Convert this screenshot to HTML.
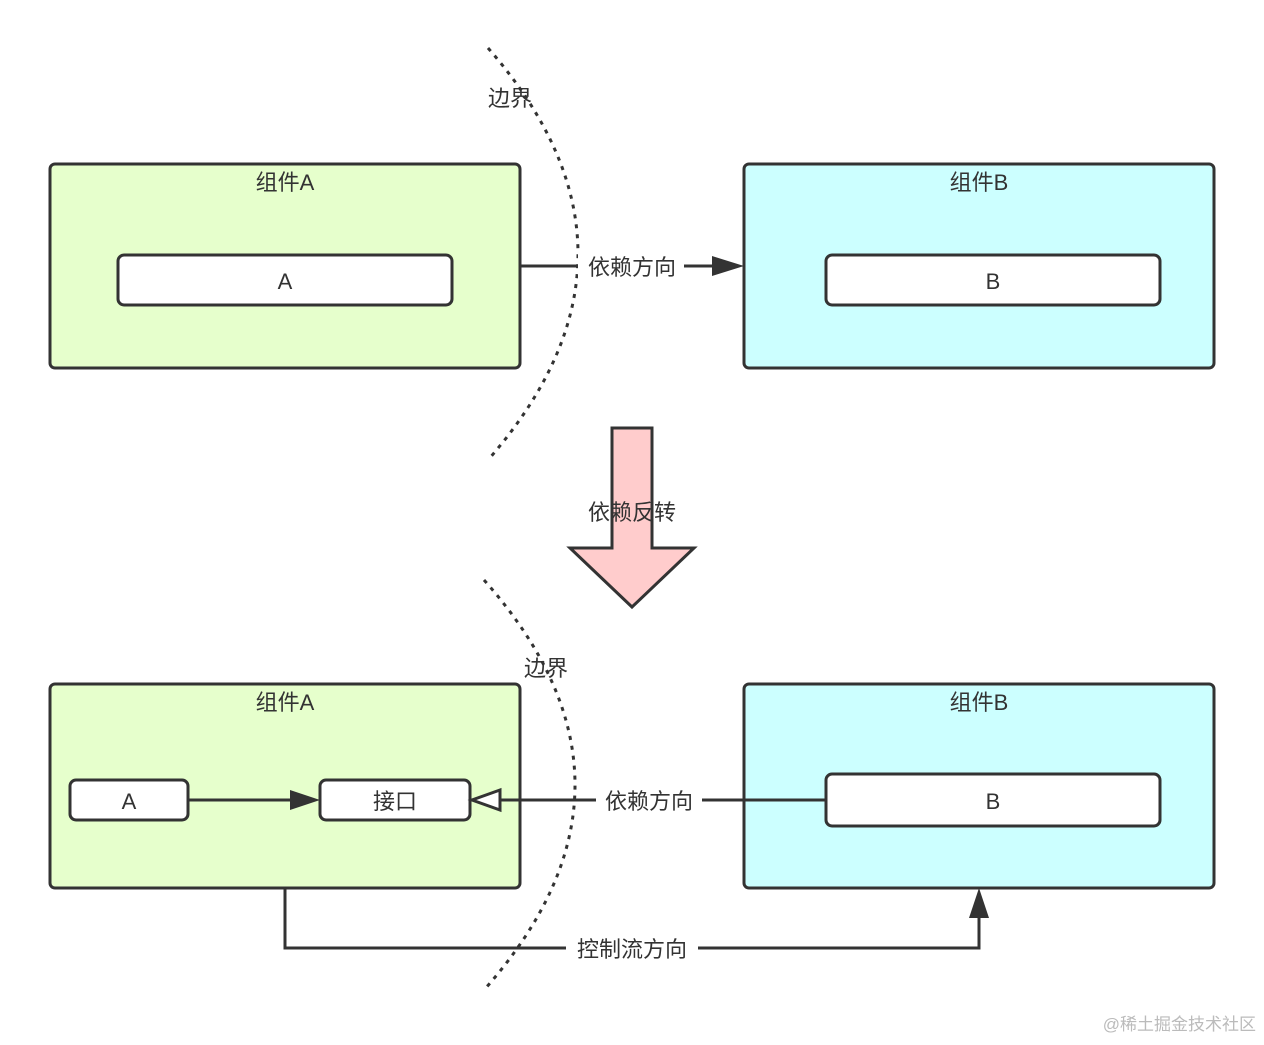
<!DOCTYPE html>
<html><head><meta charset="utf-8"><style>body{margin:0;background:#fff}svg text{font-family:"Liberation Sans","Noto Sans CJK SC",sans-serif;fill:#333}</style></head><body>
<svg width="1264" height="1040" viewBox="0 0 1264 1040" xmlns="http://www.w3.org/2000/svg">
<g stroke="#333" stroke-width="3">
<rect x="50" y="164" width="470" height="204" rx="5" fill="#e6ffcc"/>
<rect x="744" y="164" width="470" height="204" rx="5" fill="#ccffff"/>
<rect x="118" y="255" width="334" height="50" rx="6" fill="#fff"/>
<rect x="826" y="255" width="334" height="50" rx="6" fill="#fff"/>
<rect x="50" y="684" width="470" height="204" rx="5" fill="#e6ffcc"/>
<rect x="744" y="684" width="470" height="204" rx="5" fill="#ccffff"/>
<rect x="70" y="780" width="118" height="40" rx="6" fill="#fff"/>
<rect x="320" y="780" width="150" height="40" rx="6" fill="#fff"/>
<rect x="826" y="774" width="334" height="52" rx="6" fill="#fff"/>
<path d="M488 48 Q668 254 488 460" fill="none" stroke-dasharray="4 6"/>
<path d="M484 580 Q666 785 484 990" fill="none" stroke-dasharray="4 6"/>
<line x1="520" y1="266" x2="712" y2="266"/>
<line x1="188" y1="800" x2="290" y2="800"/>
<line x1="500" y1="800" x2="826" y2="800"/>
<polyline points="285,888 285,948 979,948 979,918" fill="none"/>
<path d="M612 428 H652 V548 H694 L632 607 L570 548 H612 Z" fill="#ffcccc"/>
</g>
<rect x="578" y="254" width="106" height="26" fill="#fff"/>
<rect x="596" y="788" width="106" height="26" fill="#fff"/>
<rect x="566" y="936" width="132" height="26" fill="#fff"/>
<path d="M712 256 L744 266 L712 276 Z" fill="#333"/>
<path d="M290 790 L320 800 L290 810 Z" fill="#333"/>
<path d="M500 790 L472 800 L500 810 Z" fill="#fff" stroke="#333" stroke-width="3"/>
<path d="M969 918 L979 888 L989 918 Z" fill="#333"/>
<g font-size="22" text-anchor="middle">
<text x="510" y="106">边界</text>
<text x="546" y="676">边界</text>
<text x="285" y="190">组件A</text>
<text x="979" y="190">组件B</text>
<text x="285" y="710">组件A</text>
<text x="979" y="710">组件B</text>
<text x="285" y="289">A</text>
<text x="993" y="289">B</text>
<text x="129" y="809">A</text>
<text x="395" y="809">接口</text>
<text x="993" y="809">B</text>
<text x="632" y="275">依赖方向</text>
<text x="649" y="809">依赖方向</text>
<text x="632" y="957">控制流方向</text>
<text x="632" y="520">依赖反转</text>
</g>
<text x="1256" y="1030" font-size="17" text-anchor="end" style="fill:#bbb">@稀土掘金技术社区</text>
</svg>
</body></html>
